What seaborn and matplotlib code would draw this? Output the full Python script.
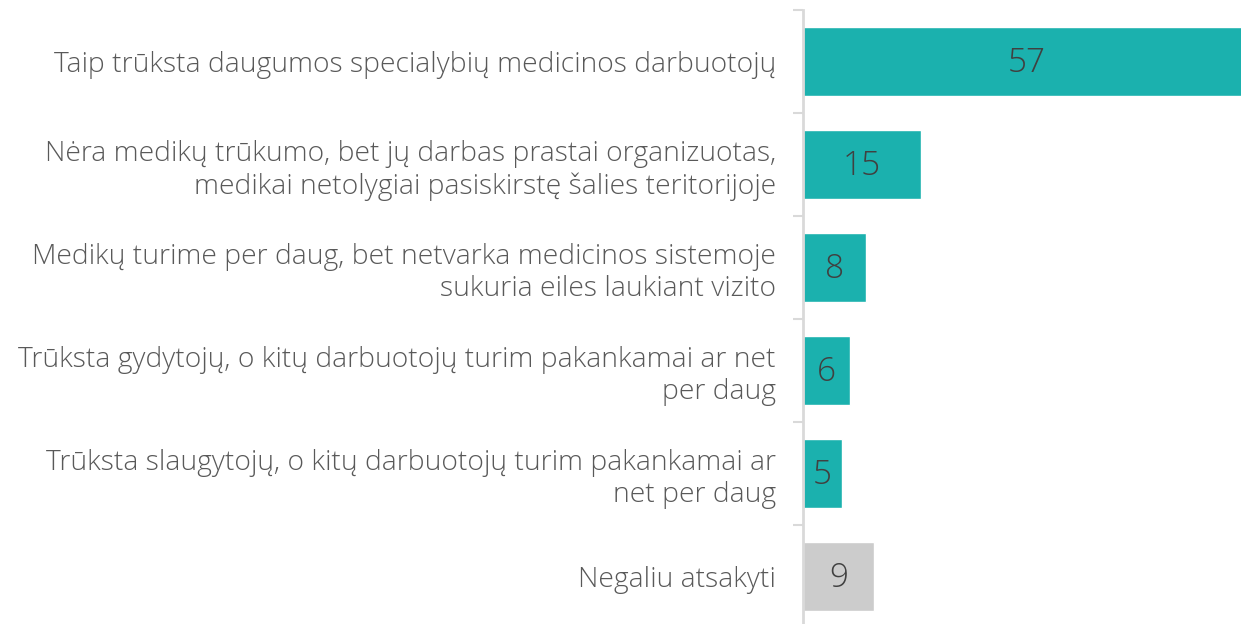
import matplotlib
matplotlib.use("Agg")
import matplotlib.pyplot as plt
import seaborn as sns
import pandas as pd

categories = [
    "Taip trūksta daugumos specialybių medicinos darbuotojų",
    "Nėra medikų trūkumo, bet jų darbas prastai organizuotas,\nmedikai netolygiai pasiskirstę šalies teritorijoje",
    "Medikų turime per daug, bet netvarka medicinos sistemoje\nsukuria eiles laukiant vizito",
    "Trūksta gydytojų, o kitų darbuotojų turim pakankamai ar net\nper daug",
    "Trūksta slaugytojų, o kitų darbuotojų turim pakankamai ar\nnet per daug",
    "Negaliu atsakyti",
]
values = [57, 15, 8, 6, 5, 9]
colors = ["#1BB1AE", "#1BB1AE", "#1BB1AE", "#1BB1AE", "#1BB1AE", "#CCCCCC"]

sns.set_theme(style="white")
plt.rcParams["font.family"] = ["Open Sans", "DejaVu Sans"]

df = pd.DataFrame({"cat": categories, "val": values})

fig = plt.figure(figsize=(12.41, 6.24), dpi=100)
ax = fig.add_axes([803 / 1241, -4 / 624, 1 - 803 / 1241, 618 / 624])
sns.barplot(data=df, x="val", y="cat", hue="cat", palette=colors, legend=False,
            width=0.67, ax=ax, saturation=1)
ax.set_xlim(0, 55.8)
ax.set_ylim(5.5, -0.5)
ax.set_xlabel("")
ax.set_ylabel("")
ax.set_xticks([])
for s in ["top", "right", "bottom"]:
    ax.spines[s].set_visible(False)
ax.spines["left"].set_color("#D9D9D9")
ax.spines["left"].set_linewidth(2)

ax.tick_params(axis="y", which="major", left=False, length=0, pad=19.5)
ax.set_yticks([i - 0.5 for i in range(7)], minor=True)
ax.tick_params(axis="y", which="minor", left=True, length=7, width=1.5, color="#D9D9D9")
for lbl in ax.get_yticklabels():
    lbl.set_fontsize(20.3)
    lbl.set_color("#595959")
    lbl.set_fontweight("light")
    lbl.set_horizontalalignment("right")
    lbl.set_multialignment("right")
    lbl.set_linespacing(1.2)

for i, v in enumerate(values):
    ax.text(v / 2, i + 0.02, str(v), ha="center", va="center", fontsize=24,
            color="#404040", fontweight="light")

fig.savefig("out.png", dpi=100)
